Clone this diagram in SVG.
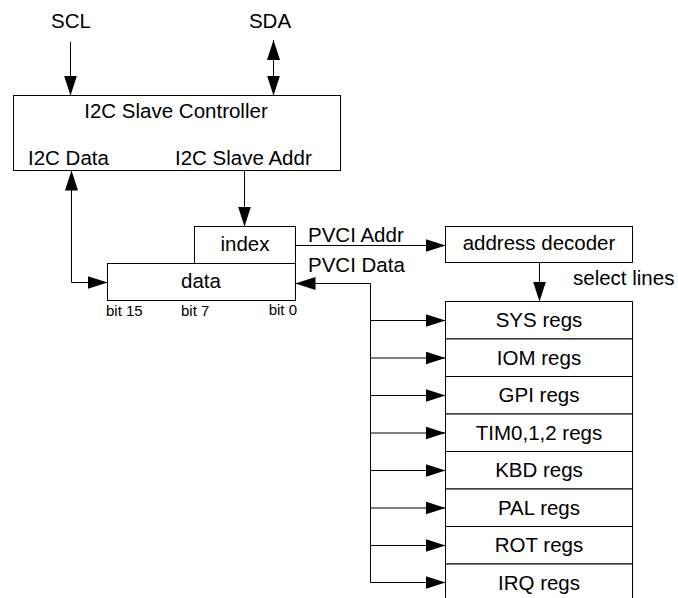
<svg xmlns="http://www.w3.org/2000/svg" width="678" height="598" viewBox="0 0 678 598">
<style>
.box{fill:#fff;stroke:#000;stroke-width:1}
.t{font-family:"Liberation Sans",Arial,sans-serif;font-size:20.5px;fill:#000}
.s{font-family:"Liberation Sans",Arial,sans-serif;font-size:15px;fill:#000}
.c{text-anchor:middle}
.ln{fill:none;stroke:#000;stroke-width:1}
</style>
<defs>
<marker id="ah" markerUnits="userSpaceOnUse" markerWidth="20" markerHeight="13" refX="20" refY="6.5" orient="auto-start-reverse">
<path d="M0,0 L20,6.5 L0,13 Z" fill="#000"/>
</marker>
</defs>
<rect width="678" height="598" fill="#fff"/>
<text class="t c" x="71" y="28">SCL</text>
<text class="t c" x="270" y="28">SDA</text>
<g id="controller">
<rect class="box" x="13.5" y="95.5" width="327" height="75"/>
<text class="t c" x="176" y="118">I2C Slave Controller</text>
<text class="t" x="28" y="165">I2C Data</text>
<text class="t" x="175" y="165">I2C Slave Addr</text>
</g>
<g id="index">
<rect class="box" x="194.5" y="226.5" width="101" height="37"/>
<text class="t c" x="245" y="251">index</text>
</g>
<g id="data">
<rect class="box" x="107.5" y="263.5" width="188" height="37"/>
<text class="t c" x="201" y="288">data</text>
<text class="s" x="106" y="316">bit 15</text>
<text class="s" x="181" y="316">bit 7</text>
<text class="s" x="297" y="315" text-anchor="end">bit 0</text>
</g>
<g id="decoder">
<rect class="box" x="445.5" y="226.5" width="187" height="36"/>
<text class="t c" x="539" y="250">address decoder</text>
</g>
<g id="regs">
<rect class="box" x="445.5" y="301.5" width="187" height="37.5"/>
<text class="t c" x="539" y="327">SYS regs</text>
<rect class="box" x="445.5" y="339" width="187" height="37.5"/>
<text class="t c" x="539" y="364.5">IOM regs</text>
<rect class="box" x="445.5" y="376.5" width="187" height="37.5"/>
<text class="t c" x="539" y="402">GPI regs</text>
<rect class="box" x="445.5" y="414" width="187" height="37.5"/>
<text class="t c" x="539" y="439.5">TIM0,1,2 regs</text>
<rect class="box" x="445.5" y="451.5" width="187" height="37.5"/>
<text class="t c" x="539" y="477">KBD regs</text>
<rect class="box" x="445.5" y="489" width="187" height="37.5"/>
<text class="t c" x="539" y="514.5">PAL regs</text>
<rect class="box" x="445.5" y="526.5" width="187" height="37.5"/>
<text class="t c" x="539" y="552">ROT regs</text>
<rect class="box" x="445.5" y="564" width="187" height="40"/>
<text class="t c" x="539" y="589.5">IRQ regs</text>
</g>
<g id="connectors">
<path class="ln" d="M70.5,42 V95.5" marker-end="url(#ah)"/>
<path class="ln" d="M273.5,40 V95.5" marker-start="url(#ah)" marker-end="url(#ah)"/>
<path class="ln" d="M107.5,282.5 H71.5 V170.5" marker-start="url(#ah)" marker-end="url(#ah)"/>
<path class="ln" d="M244.5,170.5 V226.5" marker-end="url(#ah)"/>
<path class="ln" d="M295.5,245.5 H445.5" marker-end="url(#ah)"/>
<text class="t" x="308" y="242">PVCI Addr</text>
<text class="t" x="308" y="272">PVCI Data</text>
<path class="ln" d="M370.5,283.5 H295.5" marker-end="url(#ah)"/>
<path class="ln" d="M370.5,283.5 V582.5"/>
<path class="ln" d="M539.5,262.5 V301.5" marker-end="url(#ah)"/>
<text class="t" x="573" y="285">select lines</text>
<path class="ln" d="M370.5,320.5 H445.5" marker-end="url(#ah)"/>
<path class="ln" d="M370.5,358 H445.5" marker-end="url(#ah)"/>
<path class="ln" d="M370.5,395.5 H445.5" marker-end="url(#ah)"/>
<path class="ln" d="M370.5,433 H445.5" marker-end="url(#ah)"/>
<path class="ln" d="M370.5,470.5 H445.5" marker-end="url(#ah)"/>
<path class="ln" d="M370.5,508 H445.5" marker-end="url(#ah)"/>
<path class="ln" d="M370.5,545.5 H445.5" marker-end="url(#ah)"/>
<path class="ln" d="M370.5,582.5 H445.5" marker-end="url(#ah)"/>
</g>
</svg>
